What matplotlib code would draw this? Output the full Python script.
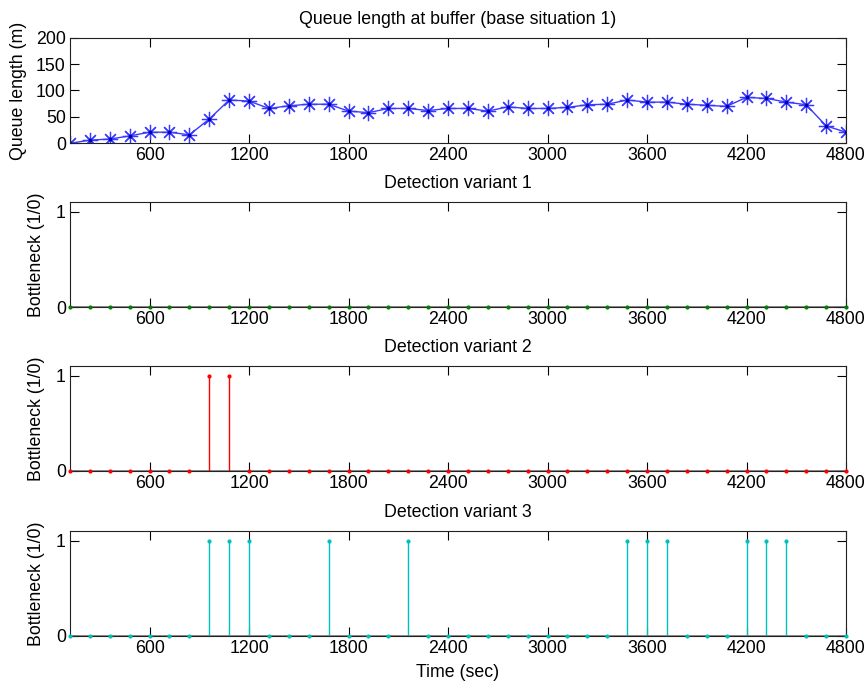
import numpy as np
import matplotlib
matplotlib.use("Agg")
import matplotlib.pyplot as plt

plt.rcParams['font.family'] = ['Liberation Sans', 'DejaVu Sans']

time_sec = list(range(120, 4801, 120))
queue_len = [0, 6, 8, 14, 21, 21, 16, 46, 82, 80,
             66, 71, 74, 74, 61, 58, 66, 66, 62, 66,
             66, 61, 69, 66, 66, 68, 73, 74, 82, 78,
             78, 74, 72, 70, 87, 85, 78, 73, 33, 21]
v1_on = []
v2_on = [960, 1080]
v3_on = [960, 1080, 1200, 1680, 2160, 3480, 3600, 3720, 4200, 4320, 4440]
xticks = [600, 1200, 1800, 2400, 3000, 3600, 4200, 4800]

titles = ["Queue length at buffer (base situation 1)", "Detection variant 1",
          "Detection variant 2", "Detection variant 3"]

fig = plt.figure(figsize=(8.66, 6.84), dpi=100)
W, H = 866, 684
boxes = [(37.7, 143.3), (202.3, 307.0), (366.0, 470.7), (531.3, 635.7)]
axes = []
for (t, b) in boxes:
    ax = fig.add_axes([70 / W, 1 - b / H, 776 / W, (b - t) / H])
    axes.append(ax)

FS = 12.8

def style(ax):
    ax.set_xlim(120, 4800)
    ax.set_xticks(xticks)
    ax.tick_params(direction='in', length=6.5, width=0.8, top=True, right=True,
                   labelsize=FS, colors='black', pad=3)
    for s in ax.spines.values():
        s.set_linewidth(0.8)
        s.set_color('#222222')

ax = axes[0]
ax.plot(time_sec, queue_len, color='#3a3aff', lw=1.0, marker=(8, 2, 0),
        markersize=11, markeredgewidth=0.9, markeredgecolor='#3a3aff')
ax.plot(time_sec, queue_len, ls='none', marker='.', markersize=3, color='#0000aa')
ax.set_ylim(0, 200)
ax.set_yticks([0, 50, 100, 150, 200])
ax.set_ylabel("Queue length (m)", fontsize=FS)
ax.set_title(titles[0], fontsize=FS, pad=10)
style(ax)

colors = ['#007f00', '#ff0000', '#00bfbf']
ons = [v1_on, v2_on, v3_on]
for i in range(3):
    ax = axes[i + 1]
    vals = [1 if t in ons[i] else 0 for t in time_sec]
    c = colors[i]
    ax.plot([120, 4800], [0, 0], color='#777777', lw=1.2, zorder=1)
    for t, v in zip(time_sec, vals):
        if v:
            ax.plot([t, t], [0, v], color=c, lw=1.0, zorder=2)
    ax.plot(time_sec, vals, ls='none', marker='.', markersize=4, color=c, zorder=3,
            clip_on=False)
    ax.set_ylim(0, 1.1)
    ax.set_yticks([0, 1])
    ax.set_ylabel("Bottleneck (1/0)", fontsize=FS)
    ax.set_title(titles[i + 1], fontsize=FS, pad=10)
    style(ax)

axes[0].yaxis.set_label_coords(-0.0555, 0.5)
for ax in axes[1:]:
    ax.yaxis.set_label_coords(-0.032, 0.5)
axes[3].set_xlabel("Time (sec)", fontsize=FS, labelpad=5)

fig.savefig("out.png", dpi=100)
